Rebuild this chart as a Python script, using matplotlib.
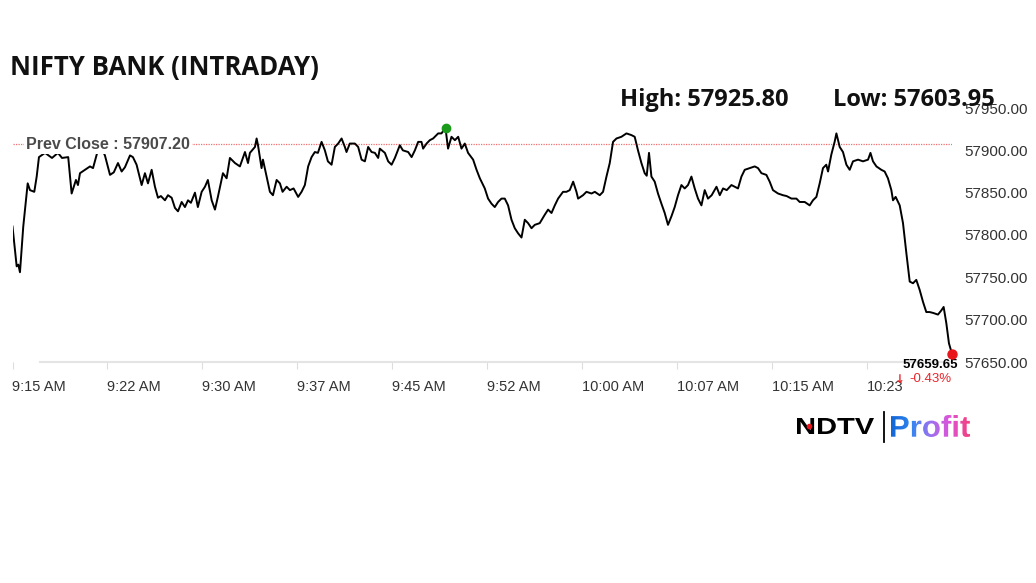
import matplotlib
matplotlib.use("Agg")
import matplotlib.pyplot as plt
import numpy as np
from matplotlib.textpath import TextPath
from matplotlib.font_manager import FontProperties
from matplotlib.patches import PathPatch
from matplotlib.transforms import Affine2D, ScaledTranslation
from matplotlib.colors import LinearSegmentedColormap

# Data: minutes after 9:15 AM and index level
minutes = [
    0, 0.33, 0.46, 0.59, 0.85, 1.2, 1.38, 1.72, 1.91, 2.09,
    2.57, 3.12, 3.59, 3.91, 4.4, 4.67, 4.82, 5.01, 5.17, 5.33,
    5.72, 6.12, 6.36, 6.65, 6.9, 7.3, 7.7, 8.0, 8.33, 8.62,
    8.88, 9.28, 9.51, 9.8, 10.2, 10.46, 10.7, 10.99, 11.25, 11.49,
    11.72, 12.04, 12.28, 12.57, 12.83, 13.07, 13.36, 13.62, 13.86, 14.09,
    14.41, 14.64, 14.94, 15.2, 15.43, 15.73, 15.99, 16.22, 16.62, 16.91,
    17.17, 17.57, 17.96, 18.36, 18.6, 18.75, 19.15, 19.28, 19.39, 19.67,
    19.78, 20.07, 20.33, 20.57, 20.86, 21.12, 21.33, 21.65, 21.91, 22.2,
    22.56, 22.83, 23.09, 23.35, 23.62, 23.88, 24.12, 24.41, 24.67, 24.91,
    25.2, 25.46, 25.72, 25.99, 26.25, 26.38, 26.64, 27.04, 27.3, 27.57,
    27.83, 28.09, 28.36, 28.62, 28.88, 29.01, 29.41, 29.67, 29.94, 30.2,
    30.59, 30.83, 31.25, 31.52, 31.78, 32.04, 32.3, 32.43, 32.7, 32.96,
    33.22, 33.62, 33.88, 34.07, 34.2, 34.4, 34.67, 34.94, 35.2, 35.46,
    35.72, 35.98, 36.38, 36.65, 36.91, 37.04, 37.3, 37.56, 37.83, 38.09,
    38.35, 38.62, 38.88, 39.14, 39.41, 39.67, 39.93, 40.2, 40.46, 40.72,
    40.99, 41.25, 41.64, 42.04, 42.3, 42.57, 42.83, 43.09, 43.48, 43.75,
    44.01, 44.28, 44.54, 44.67, 45.06, 45.33, 45.73, 45.99, 46.38, 46.64,
    46.91, 47.17, 47.43, 47.7, 48.09, 48.49, 48.88, 49.14, 49.4, 49.67,
    49.93, 50.09, 50.27, 50.46, 50.72, 50.98, 51.25, 51.51, 51.77, 52.04,
    52.3, 52.56, 52.83, 53.09, 53.35, 53.62, 53.88, 54.14, 54.41, 54.67,
    54.93, 55.22, 55.6, 55.86, 56.12, 56.41, 56.78, 57.3, 57.57, 57.83,
    58.22, 58.62, 58.88, 59.15, 59.54, 59.8, 60.06, 60.46, 60.85, 61.14,
    61.52, 61.91, 62.17, 62.57, 62.96, 63.22, 63.49, 63.75, 64.01, 64.27,
    64.41, 64.67, 64.93, 65.07, 65.33, 65.59, 65.86, 66.12, 66.38, 66.78,
    67.17, 67.57, 67.76, 67.96, 68.23, 68.62, 68.88, 69.14, 69.41, 69.54,
    69.75, 70.07, 70.33, 70.6, 70.86, 71.12, 71.38, 71.65, 71.91, 72.17,
    72.43, 72.7, 73.09, 73.36, 73.54, 73.75, 73.96, 74.2,
]
prices = [
    57810, 57763, 57765, 57756, 57810, 57861, 57853, 57851, 57869, 57892,
    57897, 57891, 57897, 57891, 57892, 57849, 57856, 57865, 57859, 57873,
    57877, 57881, 57879, 57895, 57906, 57894, 57871, 57874, 57885, 57875,
    57880, 57894, 57892, 57883, 57859, 57873, 57861, 57877, 57857, 57844,
    57846, 57841, 57847, 57844, 57832, 57828, 57839, 57833, 57841, 57838,
    57850, 57833, 57851, 57857, 57865, 57841, 57830, 57845, 57873, 57867,
    57891, 57885, 57881, 57898, 57885, 57897, 57904, 57914, 57906, 57879,
    57889, 57869, 57851, 57847, 57865, 57861, 57851, 57857, 57853, 57855,
    57845, 57851, 57859, 57881, 57892, 57898, 57897, 57910, 57900, 57887,
    57883, 57904, 57908, 57914, 57904, 57898, 57908, 57908, 57904, 57889,
    57887, 57904, 57898, 57897, 57891, 57902, 57897, 57887, 57883, 57891,
    57906, 57900, 57898, 57892, 57900, 57910, 57910, 57902, 57908, 57912,
    57914, 57920, 57920, 57924, 57925.8, 57902, 57916, 57912, 57916, 57902,
    57908, 57897, 57889, 57877, 57867, 57863, 57855, 57843, 57837, 57833,
    57839, 57843, 57843, 57835, 57818, 57808, 57802, 57797, 57818, 57814,
    57808, 57812, 57814, 57824, 57830, 57826, 57835, 57843, 57851, 57851,
    57853, 57863, 57851, 57843, 57847, 57851, 57849, 57851, 57847, 57851,
    57869, 57885, 57910, 57914, 57916, 57920, 57918, 57916, 57900, 57885,
    57873, 57870, 57897, 57869, 57863, 57849, 57837, 57826, 57812, 57822,
    57833, 57847, 57859, 57855, 57859, 57869, 57855, 57843, 57835, 57853,
    57843, 57847, 57857, 57847, 57855, 57853, 57859, 57855, 57869, 57877,
    57879, 57881, 57879, 57873, 57871, 57863, 57853, 57849, 57847, 57846,
    57843, 57843, 57839, 57839, 57835, 57841, 57845, 57861, 57879, 57883,
    57875, 57895, 57910, 57920, 57904, 57898, 57883, 57877, 57887, 57889,
    57887, 57889, 57897, 57887, 57881, 57877, 57875, 57867, 57853, 57841,
    57845, 57835, 57814, 57778, 57745, 57743, 57747, 57735, 57721, 57709,
    57709, 57708, 57706, 57711, 57715, 57696, 57672, 57659.65,
]

prev_close = 57907.20
day_high = 57925.80
day_low = 57603.95
change_pct = -0.43

tick_minutes = [0, 7.5, 15, 22.5, 30, 37.5, 45, 52.5, 60, 67.5]
tick_labels = ["9:15 AM", "9:22 AM", "9:30 AM", "9:37 AM", "9:45 AM",
               "9:52 AM", "10:00 AM", "10:07 AM", "10:15 AM", "10:23"]
y_ticks = [57650, 57700, 57750, 57800, 57850, 57900, 57950]

W, H = 1036, 583
fig = plt.figure(figsize=(W / 100, H / 100), dpi=100)
fig.patch.set_facecolor("white")


def px_rect(x0, y0, x1, y1):
    return [x0 / W, 1 - y1 / H, (x1 - x0) / W, (y1 - y0) / H]


arial = ["Liberation Sans", "DejaVu Sans"]

ax = fig.add_axes(px_rect(12.5, 108, 952, 362))
ax.plot(minutes, prices, color="black", lw=1.4, zorder=2)
ax.set_xlim(0, 74.2)
ax.set_ylim(57650, 57950)

# prev close line + label
ax.axhline(prev_close, color="#f07070", lw=0.9, ls=(0, (1, 1)), zorder=1)
ax.text(1.07, prev_close, f"Prev Close : {prev_close:.2f}", va="center", ha="left",
        fontsize=11.5, fontweight="bold", color="#4a4a4a", family=arial,
        bbox=dict(fc="white", ec="none", pad=1.5), zorder=3)

# high / last markers
i_high = int(np.argmax(prices))
ax.plot(minutes[i_high], prices[i_high], "o", color="#1c9a1c", ms=6, zorder=4, clip_on=False)
ax.plot(minutes[-1], prices[-1], "o", color="#e8161b", ms=6.5, zorder=4, clip_on=False)
ax.annotate(f"{prices[-1]:.2f}", xy=(minutes[-1], prices[-1]), xytext=(4, -8),
            textcoords="offset points", ha="right", va="center",
            fontsize=9.5, fontweight="bold", color="black", family=arial)
ax.annotate(f"{change_pct:.2f}%", xy=(minutes[-1], prices[-1]), xytext=(0, -18.3),
            textcoords="offset points", ha="right", va="center",
            fontsize=9.5, color="#e8262b", family=arial)
ax.annotate("\u2193", xy=(minutes[-1], prices[-1]), xytext=(-34, -18.3),
            textcoords="offset points", ha="right", va="center",
            fontsize=8.5, fontweight="bold", color="#e8262b", family="DejaVu Sans")

# axes styling
ax.set_xticks(tick_minutes)
ax.set_xticklabels(tick_labels, family=arial, fontsize=10.5, color="#333333")
shift = ScaledTranslation(-5 / 100, 0, fig.dpi_scale_trans)
for lbl in ax.get_xticklabels():
    lbl.set_ha("left")
    lbl.set_transform(lbl.get_transform() + shift)
ax.yaxis.tick_right()
ax.set_yticks(y_ticks)
ax.set_yticklabels([f"{v:.2f}" for v in y_ticks], family=arial, fontsize=11, color="#333333")
ax.tick_params(axis="y", length=0, pad=9)
ax.tick_params(axis="x", length=5, color="#dddddd", pad=8, direction="out")
for s in ["top", "left", "right"]:
    ax.spines[s].set_visible(False)
ax.spines["bottom"].set_color("#e4e4e4")
ax.spines["bottom"].set_linewidth(1.5)
ax.spines["bottom"].set_bounds(2.17, 74.2)

# titles
fig.text(10 / W, 1 - 68 / H, "NIFTY BANK (INTRADAY)", fontsize=18.5, fontweight="bold",
         family="Open Sans", va="center", ha="left", color="#111111")
fig.text(620 / W, 1 - 100 / H, f"High: {day_high:.2f}", fontsize=17, fontweight="bold",
         family="Open Sans", va="center", ha="left", color="#111111")
fig.text(833 / W, 1 - 100 / H, f"Low: {day_low:.2f}", fontsize=17, fontweight="bold",
         family="Open Sans", va="center", ha="left", color="#111111")

# logo, drawn in pixel coordinates
lax = fig.add_axes([0, 0, 1, 1])
lax.set_xlim(0, W)
lax.set_ylim(H, 0)
lax.axis("off")


def fitted_text(s, x0, x1, ytop, ybot, fp):
    path = TextPath((0, 0), s, size=10, prop=fp)
    ext = path.get_extents()
    tr = (Affine2D().translate(-ext.x0, -ext.y0)
          .scale((x1 - x0) / ext.width, -(ybot - ytop) / ext.height)
          .translate(x0, ybot))
    return tr.transform_path(path)


bold = FontProperties(family="Liberation Sans", weight="bold")
p1 = fitted_text("NDTV", 797, 874, 418, 434, bold)
lax.add_patch(PathPatch(p1, fc="black", ec="none"))
lax.plot([809], [425.5], "o", color="#e8161b", ms=3)
lax.plot([884, 884], [412, 442], color="black", lw=1.3)
p2 = fitted_text("Profit", 891, 970, 415, 437, bold)
patch = PathPatch(p2, fc="none", ec="none")
lax.add_patch(patch)
cmap = LinearSegmentedColormap.from_list("pf", ["#1466d6", "#2f86f0", "#9b72f0", "#e052d8", "#f2407c"])
grad = np.linspace(0, 1, 256).reshape(1, -1)
im = lax.imshow(grad, cmap=cmap, extent=(891, 970, 437, 415), aspect="auto")
im.set_clip_path(patch)
lax.set_xlim(0, W)
lax.set_ylim(H, 0)

fig.savefig("out.png", dpi=100, facecolor="white")
